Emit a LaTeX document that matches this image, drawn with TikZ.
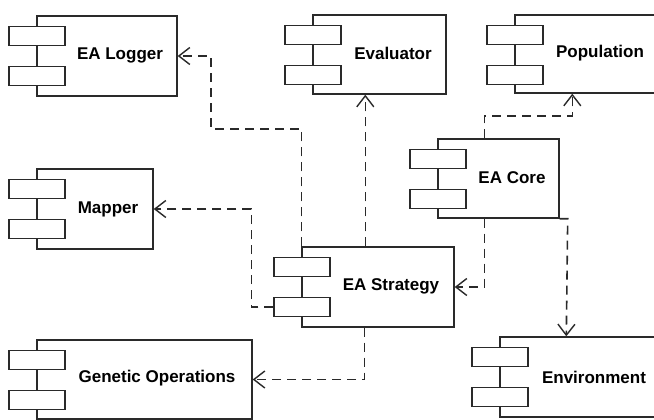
\documentclass[tikz,border=0pt]{standalone}
\usepackage{fontspec}
\setmainfont{Liberation Sans}
\usetikzlibrary{arrows.meta,calc}
\definecolor{ink}{HTML}{2A2A2A}
\tikzset{
  mainbox/.style={draw=ink, line width=1.4pt, fill=white, inner sep=0pt, rectangle},
  smallbox/.style={draw=ink, line width=1.4pt, fill=white, inner sep=0pt, rectangle,
                   minimum width=56, minimum height=19},
  lbl/.style={font=\bfseries\fontsize{17}{20}\selectfont, text=black, inner sep=0pt},
  dep/.style={draw=ink, line width=1.6pt, dash pattern=on 9pt off 6pt,
              -{Straight Barb[length=11pt,width=17pt,line width=1.4pt]}},
}
\newcommand\umlcomp[8]{%
  \node[mainbox, minimum width={#4-#2}, minimum height={#5-#3}] (#1) at ({(#2+#4)/2},{(#3+#5)/2}) {};
  \node[smallbox] (#1-s1) at ({#2},{#3+20}) {};
  \node[smallbox] (#1-s2) at ({#2},{#3+60}) {};
  \node[lbl] (#1-t) at (#7,#8) {#6};
}
\begin{document}
\begin{tikzpicture}[x=1pt,y=-1pt]
\useasboundingbox (0,0) rectangle (654,420);
\clip (0,0) rectangle (654,420);
\fill[white] (0,0) rectangle (654,420);
\umlcomp{logger}{37}{16}{177}{96}{EA Logger}{120}{55}
\umlcomp{evaluator}{313}{15}{446}{94}{Evaluator}{393}{53}
\umlcomp{population}{515}{15}{668}{93}{Population}{600}{53}
\umlcomp{core}{438}{139}{559}{218}{EA Core}{512}{178}
\umlcomp{mapper}{37}{169}{153}{249}{Mapper}{108}{209}
\umlcomp{strategy}{302}{247}{454}{327}{EA Strategy}{391}{286}
\umlcomp{genops}{37}{340}{252}{419}{Genetic Operations}{157}{378}
\umlcomp{environment}{500}{337}{668}{417}{Environment}{594}{377}
% bends
\coordinate (b1) at (211,129);
% connectors
\draw[dep] (strategy.north west) |- (b1) |- (logger.east);
\draw[dep] ($(strategy.north west)+(64,0)$) -- ($(evaluator.south west)+(53,0)$);
\draw[dep] (strategy-s2.west) -- ++(-22,0) |- (mapper.east);
\draw[dep] ($(strategy.south west)+(63,0)$) |- (genops.east);
\draw[dep] ($(core.north west)+(47,0)$) -- ++(0,-22) -| ($(population.south west)+(58,0)$);
\draw[dep] ($(core.south west)+(47,0)$) |- (strategy.east);
\draw[dep] (core.south east) -- ++(8,0) -- ($(environment.north west)+(67,0)$);
\end{tikzpicture}
\end{document}
